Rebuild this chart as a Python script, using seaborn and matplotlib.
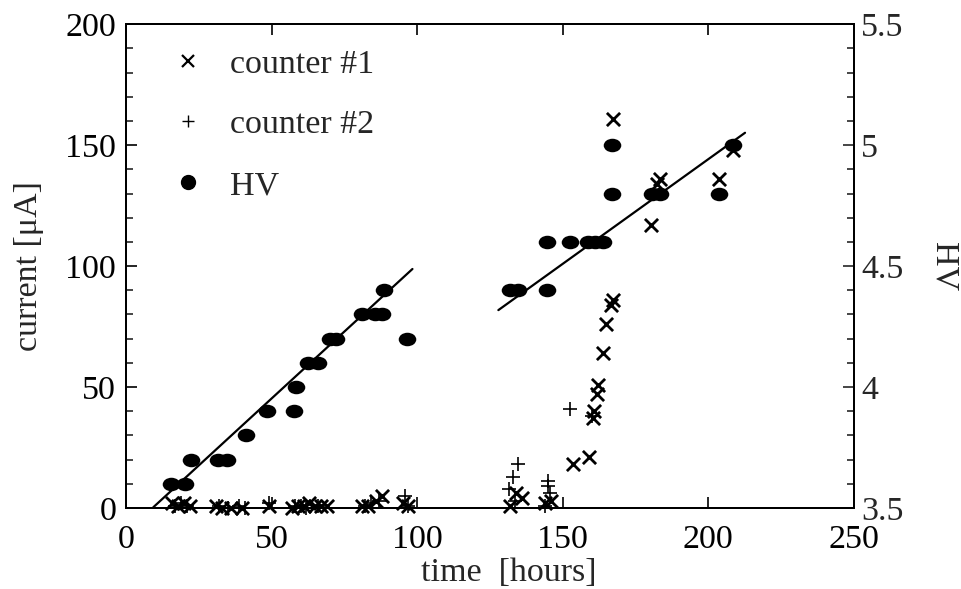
import numpy as np
import pandas as pd
import seaborn as sns
import matplotlib.pyplot as plt
from matplotlib.path import Path
from matplotlib.transforms import Affine2D
from matplotlib.markers import MarkerStyle
from matplotlib.lines import Line2D
from matplotlib.ticker import MultipleLocator

sns.set_style("ticks")
plt.rcParams['font.family'] = ['Liberation Serif', 'DejaVu Serif']

# counter #1 (x) -- current in uA
c1_time = [16, 18, 20, 22, 31, 33, 36, 40, 49, 57, 59, 61, 63, 65, 67, 69,
           81, 83, 86, 88, 95, 97,
           132, 134, 136, 144, 146, 153.4, 159.1, 160.3, 160.7, 161.6, 162.2,
           163.7, 165, 166.5, 167.3, 167.3, 180.2, 182.5, 183.3, 203.7, 208.3]
c1_current = [2, 1, 2, 1, 1, 0, 0, 0, 1, 0, 1, 1, 2, 1, 1, 1,
              1, 1, 3, 5, 2, 1,
              1, 6, 4, 2, 3, 18, 21, 37, 40, 47, 51,
              64, 76, 84, 86, 161, 117, 134, 136, 136, 148]

# counter #2 (+)
c2_time = [17, 19, 21, 32, 35, 39, 41, 49, 58, 60, 62, 66, 82, 84, 87, 96, 97,
           131.5, 133, 134.7, 133.5, 145, 145, 145.5, 144, 152.5, 160]
c2_current = [1, 2, 1, 1, 0, 1, 0, 2, 1, 1, 0, 1, 1, 2, 3, 5, 1,
              8, 13, 18, 3, 11, 9, 6, 1, 41, 38]

# HV (right axis)
hv_time = [15.5, 20.3, 22.2, 31.6, 34.7, 41.4, 48.5, 57.7, 58.3, 62.4, 66.0,
           70.0, 72.0, 81.2, 85.5, 88.0, 88.6, 96.4,
           132, 134.5, 144.5, 144.5, 152.5, 158.6, 161, 163.9, 166.9, 166.9,
           180.5, 183.4, 203.7, 208.3]
hv_value = [3.6, 3.6, 3.7, 3.7, 3.7, 3.8, 3.9, 3.9, 4.0, 4.1, 4.1,
            4.2, 4.2, 4.3, 4.3, 4.3, 4.4, 4.2,
            4.4, 4.4, 4.4, 4.6, 4.6, 4.6, 4.6, 4.6, 4.8, 5.0,
            4.8, 4.8, 4.8, 5.0]

# straight-line fits drawn through the HV points
fit1_time = [9.4, 98.4]
fit1_hv = [3.503, 4.488]
fit2_time = [127.9, 212.6]
fit2_hv = [4.318, 5.051]

fig = plt.figure(figsize=(9.61, 5.89), dpi=100)
ax = fig.add_axes([0.131, 0.1375, 0.7576, 0.8215])
ax2 = ax.twinx()

fs = 24.5

sns.scatterplot(x=c1_time, y=c1_current, ax=ax, marker='x', color='black',
                s=90, linewidth=2.0, clip_on=False, zorder=3)
sns.scatterplot(x=c2_time, y=c2_current, ax=ax, marker='+', color='black',
                s=90, linewidth=1.2, clip_on=False, zorder=3)

ellipse = MarkerStyle(Path.unit_circle().transformed(Affine2D().scale(1.3, 1.0)))
sns.scatterplot(x=hv_time, y=hv_value, ax=ax2, marker=ellipse, color='black',
                edgecolor='black', s=160, linewidth=0, zorder=3)
sns.lineplot(x=fit1_time, y=fit1_hv, ax=ax2, color='black', linewidth=1.6)
sns.lineplot(x=fit2_time, y=fit2_hv, ax=ax2, color='black', linewidth=1.6)

ax.set_xlim(0, 250)
ax.set_ylim(0, 200)
ax2.set_ylim(3.5, 5.5)

ax.xaxis.set_major_locator(MultipleLocator(50))
ax.yaxis.set_major_locator(MultipleLocator(50))
ax.yaxis.set_minor_locator(MultipleLocator(10))
ax2.yaxis.set_minor_locator(MultipleLocator(0.1))
ax2.set_yticks([3.5, 4, 4.5, 5, 5.5])
ax2.set_yticklabels(['3.5', '4', '4.5', '5', '5.5'])

ax.tick_params(axis='x', which='major', direction='in', length=8, width=1.2,
               labelsize=fs, top=True, pad=12, colors='black')
ax.tick_params(axis='y', which='major', direction='in', length=8, width=1.2,
               labelsize=fs, pad=7, colors='black')
ax.tick_params(axis='y', which='minor', direction='in', length=5, width=1.2)
ax2.tick_params(axis='y', which='major', direction='in', length=8, width=1.2,
                labelsize=fs, pad=5)
ax2.tick_params(axis='y', which='minor', direction='in', length=5, width=1.2)

for a in (ax, ax2):
    for sp in a.spines.values():
        sp.set_visible(True)
        sp.set_linewidth(1.4)
        sp.set_color('black')

ax.set_xlabel('time  [hours]', fontsize=fs)
ax.xaxis.set_label_coords(0.526, -0.102)
ax.set_ylabel('current [μA]', fontsize=fs)
ax.yaxis.set_label_coords(-0.112, 0.5)
ax2.set_ylabel('HV', fontsize=fs, rotation=270, labelpad=40)

handles = [
    Line2D([], [], linestyle='none', marker='x', color='black', markersize=9,
           markeredgewidth=1.6, label='counter #1'),
    Line2D([], [], linestyle='none', marker='+', color='black', markersize=9,
           markeredgewidth=1.0, label='counter #2'),
    Line2D([], [], linestyle='none', marker='o', color='black', markersize=10,
           label='HV'),
]
ax2.legend(handles=handles, loc='upper left', bbox_to_anchor=(0.062, 0.949),
           frameon=False, fontsize=fs, handlelength=1.0, handletextpad=0.735,
           borderaxespad=0, borderpad=0, labelspacing=0.88)

fig.savefig('out.png', dpi=100)
